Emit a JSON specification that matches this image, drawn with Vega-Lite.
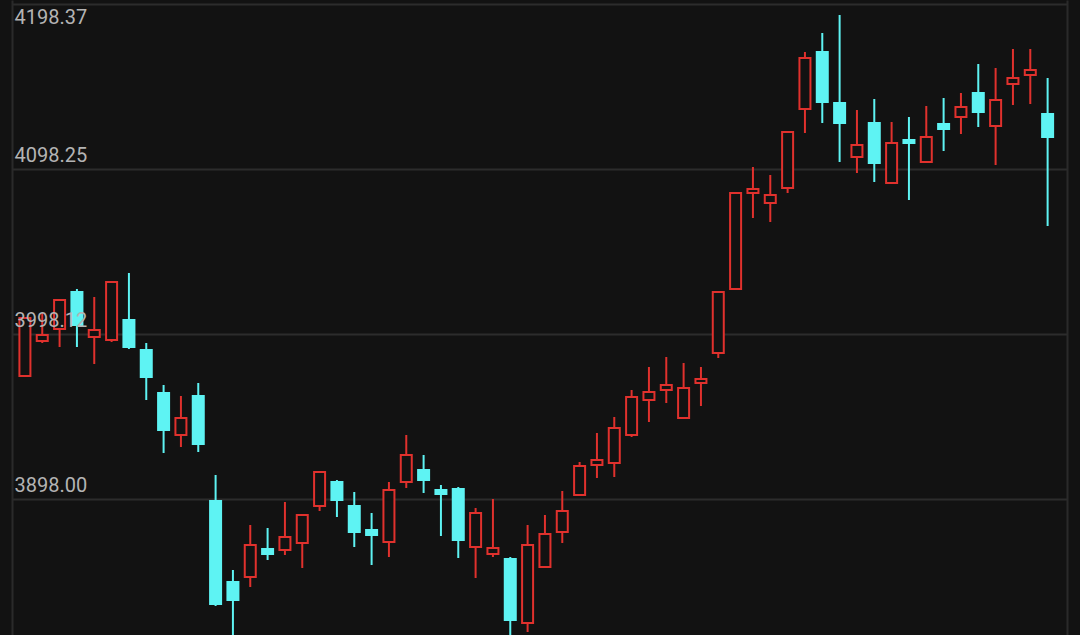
{
  "$schema": "https://vega.github.io/schema/vega-lite/v6.json",
  "width": 1055,
  "height": 635,
  "autosize": "none",
  "padding": {"left": 12, "top": 0, "right": 13, "bottom": 0},
  "background": "#121212",
  "config": {"view": {"stroke": null, "fill": "#121212"}},
  "data": {"values": [
    {"i":0,"open":3972.64,"high":4007.84,"low":3972.64,"close":4007.84},
    {"i":1,"open":3993.88,"high":4010.87,"low":3992.67,"close":3997.52},
    {"i":2,"open":4001.16,"high":4018.76,"low":3990.24,"close":4018.76},
    {"i":3,"open":4023.61,"high":4025.43,"low":3990.24,"close":4003.59},
    {"i":4,"open":3996.31,"high":4020.58,"low":3979.92,"close":4000.56},
    {"i":5,"open":3994.49,"high":4029.68,"low":3993.27,"close":4029.68},
    {"i":6,"open":4006.62,"high":4035.14,"low":3989.03,"close":3990.24},
    {"i":7,"open":3988.42,"high":3992.67,"low":3958.08,"close":3972.04},
    {"i":8,"open":3962.33,"high":3967.18,"low":3925.92,"close":3939.88},
    {"i":9,"open":3936.84,"high":3960.51,"low":3929.56,"close":3947.16},
    {"i":10,"open":3960.51,"high":3968.40,"low":3926.53,"close":3931.38},
    {"i":11,"open":3896.79,"high":3912.57,"low":3833.08,"close":3834.29},
    {"i":12,"open":3847.64,"high":3854.92,"low":3812.00,"close":3836.72},
    {"i":13,"open":3850.68,"high":3882.23,"low":3844.61,"close":3870.09},
    {"i":14,"open":3867.67,"high":3880.41,"low":3860.99,"close":3864.63},
    {"i":15,"open":3867.06,"high":3896.19,"low":3864.03,"close":3874.95},
    {"i":16,"open":3871.31,"high":3888.30,"low":3856.14,"close":3888.30},
    {"i":17,"open":3893.76,"high":3914.39,"low":3890.73,"close":3914.39},
    {"i":18,"open":3908.32,"high":3909.54,"low":3887.08,"close":3897.40},
    {"i":19,"open":3893.76,"high":3902.25,"low":3868.88,"close":3877.98},
    {"i":20,"open":3879.20,"high":3889.51,"low":3857.96,"close":3876.16},
    {"i":21,"open":3871.91,"high":3908.32,"low":3862.81,"close":3903.47},
    {"i":22,"open":3908.32,"high":3936.84,"low":3904.68,"close":3924.71},
    {"i":23,"open":3915.60,"high":3924.71,"low":3901.65,"close":3909.54},
    {"i":24,"open":3903.47,"high":3906.50,"low":3875.56,"close":3901.04},
    {"i":25,"open":3904.07,"high":3905.29,"low":3862.21,"close":3873.13},
    {"i":26,"open":3868.88,"high":3892.55,"low":3850.07,"close":3889.51},
    {"i":27,"open":3864.63,"high":3898.01,"low":3862.81,"close":3868.27},
    {"i":28,"open":3861.60,"high":3862.81,"low":3812.00,"close":3824.58},
    {"i":29,"open":3822.76,"high":3882.23,"low":3817.30,"close":3870.09},
    {"i":30,"open":3856.74,"high":3888.30,"low":3856.74,"close":3876.77},
    {"i":31,"open":3877.98,"high":3902.86,"low":3871.31,"close":3890.73},
    {"i":32,"open":3900.43,"high":3920.46,"low":3900.43,"close":3918.03},
    {"i":33,"open":3918.64,"high":3938.06,"low":3910.75,"close":3921.67},
    {"i":34,"open":3919.85,"high":3947.76,"low":3911.36,"close":3941.09},
    {"i":35,"open":3936.84,"high":3964.15,"low":3935.63,"close":3959.90},
    {"i":36,"open":3958.08,"high":3978.10,"low":3944.73,"close":3962.93},
    {"i":37,"open":3964.15,"high":3984.17,"low":3956.26,"close":3967.18},
    {"i":38,"open":3947.16,"high":3980.53,"low":3947.16,"close":3965.36},
    {"i":39,"open":3968.40,"high":3978.10,"low":3954.44,"close":3970.82},
    {"i":40,"open":3986.60,"high":4023.61,"low":3983.57,"close":4023.61},
    {"i":41,"open":4025.43,"high":4083.69,"low":4025.43,"close":4083.69},
    {"i":42,"open":4083.69,"high":4099.46,"low":4068.52,"close":4086.11},
    {"i":43,"open":4077.62,"high":4094.61,"low":4066.09,"close":4082.47},
    {"i":44,"open":4086.72,"high":4120.70,"low":4083.69,"close":4120.70},
    {"i":45,"open":4134.66,"high":4169.25,"low":4120.10,"close":4165.61},
    {"i":46,"open":4169.25,"high":4180.78,"low":4126.16,"close":4138.91},
    {"i":47,"open":4138.30,"high":4191.70,"low":4102.50,"close":4126.16},
    {"i":48,"open":4105.53,"high":4134.05,"low":4095.82,"close":4112.81},
    {"i":49,"open":4126.16,"high":4140.73,"low":4090.36,"close":4101.89},
    {"i":50,"open":4089.76,"high":4126.77,"low":4089.76,"close":4114.03},
    {"i":51,"open":4115.85,"high":4129.80,"low":4079.44,"close":4114.03},
    {"i":52,"open":4102.50,"high":4136.48,"low":4102.50,"close":4117.67},
    {"i":53,"open":4125.56,"high":4141.33,"low":4109.17,"close":4122.52},
    {"i":54,"open":4129.80,"high":4144.37,"low":4119.49,"close":4135.87},
    {"i":55,"open":4144.37,"high":4161.96,"low":4123.74,"close":4132.84},
    {"i":56,"open":4124.34,"high":4159.54,"low":4100.68,"close":4140.12},
    {"i":57,"open":4149.83,"high":4171.07,"low":4137.09,"close":4153.47},
    {"i":58,"open":4155.29,"high":4171.07,"low":4137.69,"close":4158.32},
    {"i":59,"open":4131.62,"high":4153.47,"low":4063.66,"close":4117.67}
  ]},
  "encoding": {
    "x": {"field": "i", "type": "quantitative", "scale": {"domain": [-0.457, 59.83], "nice": false, "zero": false}, "axis": null}
  },
  "layer": [
    {
      "mark": {"type": "rule", "strokeWidth": 2},
      "encoding": {
        "y": {"field": "low", "type": "quantitative",
          "scale": {"domain": [3815.48, 4200.8], "zero": false, "nice": false},
          "axis": {"orient": "right", "values": [3898.00, 3998.12, 4098.25, 4198.37], "grid": true, "gridColor": "#2c2c2c", "gridWidth": 2, "labels": false, "ticks": false, "tickSize": 0, "domain": true, "domainColor": "#2a2a2a", "domainWidth": 2, "title": null}},
        "y2": {"field": "high"},
        "color": {"condition": {"test": "datum.close >= datum.open", "value": "#e0312d"}, "value": "#5ef3f3"}
      }
    },
    {
      "mark": {"type": "bar", "width": 11, "strokeWidth": 2},
      "encoding": {
        "y": {"field": "open", "type": "quantitative",
          "axis": {"orient": "left", "values": [3898.00, 3998.12, 4098.25, 4198.37], "format": ".2f", "grid": false, "ticks": false, "tickSize": 0, "domain": true, "domainColor": "#2a2a2a", "domainWidth": 2, "title": null, "labelAlign": "left", "labelPadding": -2, "labelOffset": -14, "labelFlush": 20, "labelFlushOffset": -17, "labelColor": "#b4b4b4", "labelFont": "Roboto", "labelFontSize": 20, "zindex": 1}},
        "y2": {"field": "close"},
        "fill": {"condition": {"test": "datum.close >= datum.open", "value": "#121212"}, "value": "#5ef3f3"},
        "stroke": {"condition": {"test": "datum.close >= datum.open", "value": "#e0312d"}, "value": "#5ef3f3"}
      }
    }
  ],
  "resolve": {"axis": {"y": "independent"}}
}
